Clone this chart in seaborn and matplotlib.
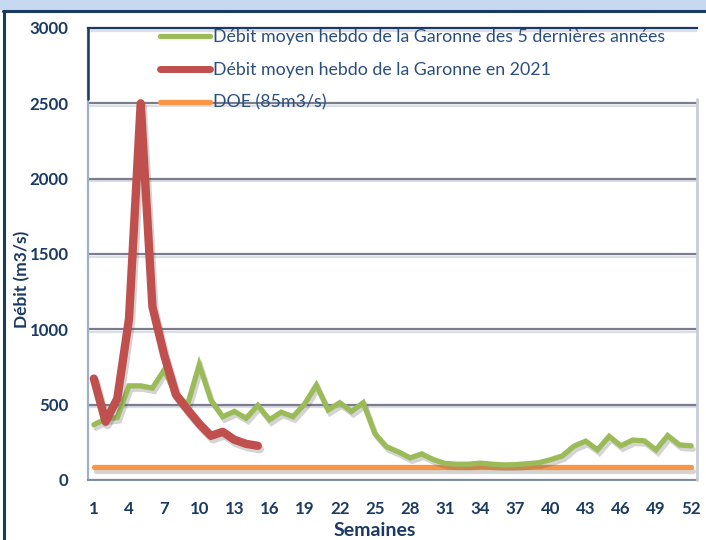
import numpy as np
import pandas as pd
import matplotlib
matplotlib.use("Agg")
import matplotlib.pyplot as plt
import matplotlib.patheffects as pe
from matplotlib.patches import Rectangle
from matplotlib.lines import Line2D
import seaborn as sns

# Weekly flow of the Garonne (m3/s)
weeks = list(range(1, 53))
flow_5yr = [367, 405, 415, 625, 625, 610, 730, 570, 500, 765,
            530, 420, 455, 410, 495, 400, 450, 420, 505, 630,
            465, 513, 455, 513, 307, 220, 187, 147, 173, 135,
            110, 105, 105, 112, 105, 100, 102, 108, 115, 135,
            160, 225, 258, 200, 290, 227, 265, 260, 200, 295,
            233, 227]
weeks_2021 = list(range(1, 16))
flow_2021 = [673, 387, 540, 1070, 2500, 1150, 830, 567, 467, 373,
             293, 320, 267, 240, 227]
doe_value = 85
doe = [doe_value] * len(weeks)

label_5yr = "Débit moyen hebdo de la Garonne des 5 dernières années"
label_2021 = "Débit moyen hebdo de la Garonne en 2021"
label_doe = "DOE (85m3/s)"

GREEN = "#9bbb59"
RED = "#c0504d"
ORANGE = "#f79646"
NAVY = "#1b3a63"
LEGEND_TXT = "#2a4f7f"

sns.set_theme(style="white")
plt.rcParams["font.family"] = ["Lato", "DejaVu Sans"]

fig = plt.figure(figsize=(7.06, 5.40), dpi=100)
fig.patch.set_facecolor("white")

# Outer frame: light blue band on top and navy border
fig.add_artist(Rectangle((0, 1 - 10 / 540), 1, 10 / 540, transform=fig.transFigure,
                         facecolor="#c6d9f1", edgecolor="none", zorder=0))
fig.add_artist(Line2D([3 / 706, 1], [1 - 10.5 / 540, 1 - 10.5 / 540], transform=fig.transFigure,
                      color=NAVY, lw=2.2, zorder=1))
fig.add_artist(Line2D([3.5 / 706, 3.5 / 706], [0, 1 - 10.5 / 540], transform=fig.transFigure,
                      color=NAVY, lw=2.2, zorder=1))

ax = fig.add_axes([88 / 706, 1 - 480 / 540, (697 - 88) / 706, (480 - 28) / 540])

df5 = pd.DataFrame({"Semaine": weeks, "Débit": flow_5yr})
df21 = pd.DataFrame({"Semaine": weeks_2021, "Débit": flow_2021})
dfd = pd.DataFrame({"Semaine": weeks, "Débit": doe})

shadow = [pe.SimpleLineShadow(offset=(1.5, -2.5), shadow_color="#555555", alpha=0.25), pe.Normal()]

sns.lineplot(data=dfd, x="Semaine", y="Débit", ax=ax, color=ORANGE, linewidth=3.8,
             solid_capstyle="round", path_effects=shadow, zorder=3)
sns.lineplot(data=df5, x="Semaine", y="Débit", ax=ax, color=GREEN, linewidth=3.8,
             solid_capstyle="round", solid_joinstyle="miter", path_effects=shadow, zorder=4)
sns.lineplot(data=df21, x="Semaine", y="Débit", ax=ax, color=RED, linewidth=6.0,
             solid_capstyle="round", path_effects=shadow, zorder=5)

ax.set_xlim(0.5, 52.5)
ax.set_ylim(0, 3000)

ax.set_yticks(np.arange(0, 3001, 500))
ax.yaxis.grid(True, color="#7b7d8e", linewidth=1.6)
for gl in ax.yaxis.get_gridlines():
    gl.set_path_effects([pe.SimpleLineShadow(offset=(0, -2), shadow_color="#9aa3b8", alpha=0.35),
                         pe.Normal()])
ax.set_axisbelow(True)

ax.set_xticks(np.arange(1, 53, 3))
ax.set_xticks(np.arange(0.5, 53, 2), minor=True)
ax.tick_params(axis="x", which="major", length=0, pad=15)
ax.tick_params(axis="x", which="minor", length=4, width=1.2, color="#3c4d6b", direction="out")
ax.tick_params(axis="y", length=0, pad=14)

for lab in ax.get_xticklabels() + ax.get_yticklabels():
    lab.set_fontweight("bold")
    lab.set_color(NAVY)
    lab.set_fontsize(12.2)

ax.set_xlabel("Semaines", fontsize=14, fontweight="bold", color=NAVY)
ax.xaxis.set_label_coords((375 - 88) / (697 - 88), -(522 - 480) / (480 - 28))
ax.set_ylabel("Débit (m3/s)", fontsize=12.5, fontweight="bold", color=NAVY)
ax.yaxis.set_label_coords(-(88 - 30) / (697 - 88), (480 - 279) / (480 - 28))

ax.spines["top"].set_color(NAVY)
ax.spines["top"].set_linewidth(1.6)
ax.spines["left"].set_color("#9fb0cc")
ax.spines["left"].set_linewidth(1.6)
ax.spines["bottom"].set_color("#7d8aa5")
ax.spines["bottom"].set_linewidth(1.4)
ax.spines["right"].set_visible(False)
# right edge of the plot area, below the legend
ax.axvline(52.5, ymin=0, ymax=2530 / 3000, color="#c9ccd6", linewidth=2.0, zorder=6, clip_on=False)
# navy edge of the legend area on the left
ax.axvline(0.5, ymin=2530 / 3000, ymax=1, color=NAVY, linewidth=1.8, zorder=6, clip_on=False)

handles = [
    Line2D([], [], color=GREEN, lw=3.8, solid_capstyle="round"),
    Line2D([], [], color=RED, lw=5.0, solid_capstyle="round"),
    Line2D([], [], color=ORANGE, lw=3.8, solid_capstyle="round"),
]
leg = ax.legend(handles, [label_5yr, label_2021, label_doe],
                loc="upper left", bbox_to_anchor=(160 / 706, 1 - 29 / 540),
                bbox_transform=fig.transFigure, frameon=False, fontsize=12.8,
                handlelength=2.8, handletextpad=0.17, labelspacing=0.95,
                borderpad=0, borderaxespad=0)
for t in leg.get_texts():
    t.set_color(LEGEND_TXT)

fig.savefig("out.png", dpi=100)
